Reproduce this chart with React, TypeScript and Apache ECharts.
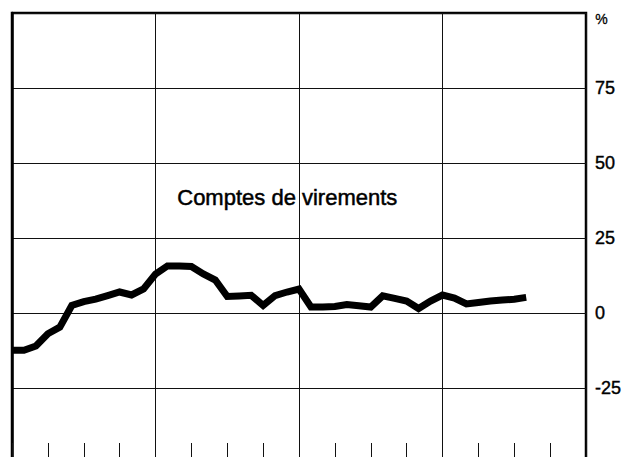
import React, { useEffect, useRef } from "react";
import * as echarts from "echarts";

// Monthly index (0 = first month), percentage change
const months: number[] = Array.from({ length: 44 }, (_, i) => i);
const values: number[] = [
  -12.4, -12.4, -11, -6.9, -4.7, 2.5, 3.8, 4.6, 5.8, 7, 6, 8,
  13, 15.7, 15.7, 15.5, 13, 11, 5.5, 5.7, 5.9, 2.5, 5.8, 7,
  8, 2, 2, 2.2, 2.8, 2.4, 2, 5.7, 4.9, 4, 1.5, 4,
  6, 5, 3, 3.5, 4, 4.3, 4.6, 5.2,
];
const yTicks: number[] = [-25, 0, 25, 50, 75];
const seriesLabel = "Comptes de virements";
const unitLabel = "%";

export default function App() {
  const ref = useRef<HTMLDivElement>(null);
  useEffect(() => {
    if (!ref.current) return;
    const chart = echarts.init(ref.current, undefined, { renderer: "svg" });
    const font = "'Liberation Sans', Arial, Helvetica, sans-serif";
    chart.setOption({
      animation: false,
      backgroundColor: "#ffffff",
      grid: {
        left: 12,
        right: 49,
        top: 13,
        bottom: 0,
        show: true,
        borderColor: "#000",
        borderWidth: 2.5,
        containLabel: false,
      },
      xAxis: [
        {
          type: "value",
          min: 0,
          max: 48,
          interval: 12,
          axisLine: { show: false },
          axisTick: { show: false },
          axisLabel: { show: false },
          splitLine: { show: true, lineStyle: { color: "#111", width: 1 } },
        },
        {
          type: "value",
          min: 0,
          max: 48,
          interval: 3,
          position: "bottom",
          axisLine: { show: false },
          axisTick: { show: true, inside: true, length: 20, lineStyle: { color: "#111", width: 1 } },
          axisLabel: { show: false },
          splitLine: { show: false },
        },
      ],
      yAxis: {
        type: "value",
        position: "right",
        min: -50,
        max: 100,
        interval: 25,
        axisLine: { show: true, lineStyle: { color: "#000", width: 2.5 } },
        axisTick: { show: false },
        splitLine: { show: true, lineStyle: { color: "#111", width: 1 } },
        axisLabel: {
          margin: 9,
          color: "#000",
          fontSize: 18,
          fontFamily: font,
          textBorderColor: "#000",
          textBorderWidth: 0.4,
          formatter: (v: number) => (yTicks.includes(v) ? String(v) : ""),
        },
      },
      graphic: [
        {
          type: "text",
          left: 595,
          top: 12,
          style: { text: unitLabel, fontSize: 14, fontFamily: font, fill: "#000", stroke: "#000", lineWidth: 0.3 },
        },
        {
          type: "text",
          left: 177,
          top: 186,
          style: { text: seriesLabel, fontSize: 22, fontFamily: font, fill: "#000", stroke: "#000", lineWidth: 0.5 },
        },
      ],
      series: [
        {
          type: "line",
          xAxisIndex: 0,
          data: months.map((m, i) => [m, values[i]]),
          symbol: "none",
          lineStyle: { color: "#000", width: 7, join: "miter" },
        },
      ],
    });
    return () => chart.dispose();
  }, []);
  return <div ref={ref} style={{ width: 635, height: 463, position: "absolute", left: 0, top: 0 }} />;
}
